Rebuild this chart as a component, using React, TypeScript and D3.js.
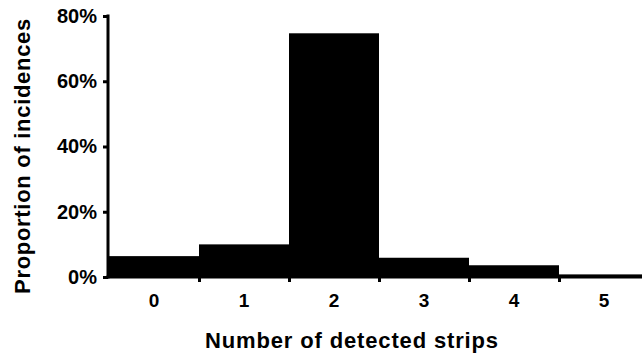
import { useEffect, useRef } from "react";
import * as d3 from "d3";

const strips = [0, 1, 2, 3, 4, 5];
const proportions = [6.4, 10.0, 74.7, 5.9, 3.6, 0.8];
const yTicks = [0, 20, 40, 60, 80];

function App() {
	const ref = useRef<SVGSVGElement>(null);

	const width = 642;
	const height = 356;
	const margin = { top: 16, right: -7, bottom: 79, left: 109 };

	useEffect(() => {
		const svg = d3.select(ref.current);
		svg.selectAll("*").remove();

		const x = d3
			.scaleLinear()
			.domain([-0.5, 5.5])
			.range([margin.left, width - margin.right]);
		const y = d3
			.scaleLinear()
			.domain([0, 80])
			.range([height - margin.bottom, margin.top]);

		const font = "'Liberation Sans', Arial, sans-serif";

		// Bars (histogram-style, no gaps)
		svg.append("g")
			.selectAll("rect")
			.data(strips)
			.join("rect")
			.attr("x", (d) => x(d - 0.5))
			.attr("width", (d) => x(d + 0.5) - x(d - 0.5))
			.attr("y", (_, i) => y(proportions[i]))
			.attr("height", (_, i) => y(0) - y(proportions[i]))
			.attr("fill", "#000");

		// Y axis
		const yAxis = svg
			.append("g")
			.attr("transform", `translate(${margin.left - 1},0)`)
			.call(
				d3
					.axisLeft(y)
					.tickValues(yTicks)
					.tickSize(5)
					.tickPadding(6)
					.tickFormat((d) => `${d}%`)
			);
		yAxis.select(".domain").attr("stroke-width", 3).attr("d", `M0,${y(80) - 1.5}V${y(0) + 1.5}`);
		yAxis.selectAll(".tick line").attr("stroke-width", 3);
		yAxis
			.selectAll(".tick text")
			.attr("font-family", font)
			.attr("font-weight", "bold")
			.attr("font-size", 20)
			.attr("fill", "#000");

		// X axis
		const xAxis = svg
			.append("g")
			.attr("transform", `translate(0,${y(0)})`)
			.call(
				d3
					.axisBottom(x)
					.tickValues(strips.slice(0, -1).map((d) => d + 0.5))
					.tickSize(5)
					.tickFormat(() => "")
			);
		xAxis.select(".domain").attr("stroke-width", 3).attr("d", `M${margin.left - 2.5},0H${width}`);
		xAxis.selectAll(".tick line").attr("stroke-width", 3);

		// Category labels at bin centres
		svg.append("g")
			.selectAll("text")
			.data(strips)
			.join("text")
			.attr("x", (d) => x(d))
			.attr("y", y(0) + 30)
			.attr("text-anchor", "middle")
			.attr("font-family", font)
			.attr("font-weight", "bold")
			.attr("font-size", 19)
			.text((d) => d);

		// Axis titles
		svg.append("text")
			.attr("x", 352)
			.attr("y", 348)
			.attr("text-anchor", "middle")
			.attr("font-family", font)
			.attr("font-weight", "bold")
			.attr("font-size", 22)
			.attr("letter-spacing", 0.85)
			.text("Number of detected strips");

		svg.append("text")
			.attr("transform", `translate(30,156) rotate(-90)`)
			.attr("text-anchor", "middle")
			.attr("font-family", font)
			.attr("font-weight", "bold")
			.attr("font-size", 22)
			.attr("letter-spacing", 0.7)
			.text("Proportion of incidences");
	}, []);

	return (
		<svg
			ref={ref}
			width={width}
			height={height}
			style={{ position: "absolute", left: 0, top: 0, background: "#fff" }}
		/>
	);
}

export default App;
